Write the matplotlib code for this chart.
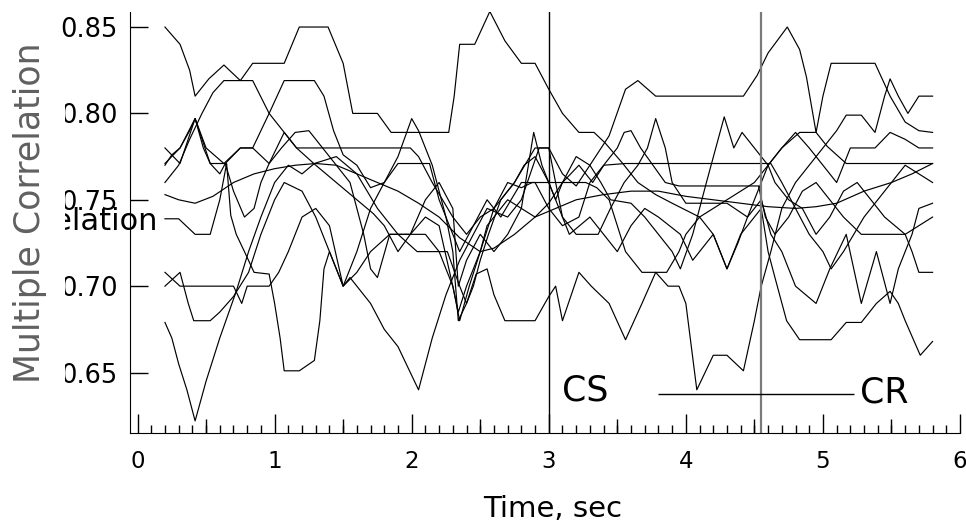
import numpy as np
import matplotlib
matplotlib.use("Agg", force=True)
import matplotlib.pyplot as plt
from matplotlib.patches import Rectangle
from matplotlib.ticker import MultipleLocator, FormatStrFormatter

# ---- data: traced multiple-correlation curves (time [s], value) ----
s1_t = [0.2, 0.31, 0.38, 0.42, 0.52, 0.63, 0.75, 0.84, 1.07, 1.18, 1.39, 1.50, 1.57, 1.75, 1.85, 2.27, 2.31, 2.35, 2.46, 2.57, 2.68, 2.80, 2.90, 3.0, 3.1, 3.22, 3.33, 3.41, 3.54, 3.65, 3.78, 3.9, 4.1, 4.3, 4.5, 4.6, 4.7, 4.83, 4.95, 5.0, 5.06, 5.38, 5.49, 5.6, 5.7, 5.8]
s1_v = [0.85, 0.84, 0.825, 0.81, 0.82, 0.828, 0.819, 0.829, 0.829, 0.85, 0.85, 0.829, 0.80, 0.80, 0.789, 0.789, 0.81, 0.84, 0.84, 0.859, 0.842, 0.829, 0.829, 0.814, 0.80, 0.789, 0.789, 0.783, 0.771, 0.76, 0.753, 0.748, 0.74, 0.75, 0.76, 0.77, 0.78, 0.789, 0.789, 0.81, 0.829, 0.829, 0.81, 0.795, 0.79, 0.789]

s2_t = [0.2, 0.31, 0.42, 0.5, 0.63, 0.75, 0.84, 0.96, 1.07, 1.16, 1.99, 2.05, 2.15, 2.3, 2.4, 2.5, 2.6, 2.75, 2.9, 3.0, 3.1, 3.2, 3.3, 3.44, 3.56, 3.65, 3.78, 4.42, 4.52, 4.6, 4.74, 4.83, 4.88, 4.95, 5.03, 5.17, 5.61, 5.8]
s2_v = [0.78, 0.771, 0.797, 0.78, 0.771, 0.78, 0.78, 0.771, 0.789, 0.78, 0.78, 0.775, 0.76, 0.74, 0.73, 0.74, 0.745, 0.76, 0.78, 0.78, 0.765, 0.758, 0.77, 0.787, 0.814, 0.819, 0.81, 0.81, 0.822, 0.835, 0.85, 0.837, 0.821, 0.789, 0.781, 0.771, 0.771, 0.771]

s3_t = [0.2, 0.3, 0.38, 0.47, 0.55, 0.63, 0.84, 0.96, 1.07, 1.16, 1.3, 1.45, 1.6, 1.72, 1.8, 1.9, 1.99, 2.1, 2.2, 2.3, 2.34, 2.4, 2.5, 2.6, 2.7, 2.8, 2.89, 2.95, 3.0, 3.1, 3.2, 3.36, 3.45, 3.55, 3.65, 3.72, 3.78, 3.85, 3.9, 4.0, 4.3, 4.45, 4.55, 4.62, 4.7, 4.8, 4.95, 5.05, 5.17, 5.28, 5.39, 5.49, 5.55, 5.65, 5.7, 5.8]
s3_v = [0.76, 0.77, 0.785, 0.80, 0.812, 0.819, 0.819, 0.80, 0.789, 0.78, 0.77, 0.76, 0.75, 0.742, 0.735, 0.72, 0.73, 0.75, 0.76, 0.745, 0.70, 0.715, 0.73, 0.72, 0.73, 0.745, 0.789, 0.77, 0.76, 0.74, 0.73, 0.73, 0.745, 0.76, 0.77, 0.78, 0.797, 0.78, 0.76, 0.748, 0.748, 0.74, 0.75, 0.73, 0.72, 0.70, 0.69, 0.71, 0.73, 0.69, 0.72, 0.69, 0.71, 0.73, 0.745, 0.748]

s4_t = [0.2, 0.31, 0.42, 0.53, 0.64, 0.75, 0.84, 0.96, 1.07, 1.29, 1.36, 1.43, 1.5, 1.6, 1.7, 1.8, 1.9, 2.13, 2.2, 2.3, 2.35, 2.45, 2.55, 2.65, 2.8, 2.9, 3.0, 3.1, 3.22, 3.3, 3.4, 3.56, 4.62, 4.7, 4.8, 4.9, 5.0, 5.06, 5.15, 5.3, 5.4, 5.5, 5.6, 5.7, 5.8]
s4_v = [0.771, 0.78, 0.797, 0.771, 0.771, 0.78, 0.78, 0.80, 0.819, 0.819, 0.81, 0.79, 0.776, 0.77, 0.757, 0.76, 0.771, 0.771, 0.75, 0.73, 0.72, 0.735, 0.75, 0.74, 0.76, 0.76, 0.745, 0.735, 0.74, 0.76, 0.77, 0.771, 0.771, 0.76, 0.745, 0.73, 0.72, 0.71, 0.72, 0.74, 0.75, 0.76, 0.77, 0.765, 0.76]

s5_t = [0.2, 0.25, 0.3, 0.36, 0.42, 0.5, 0.6, 0.72, 0.81, 0.9, 1.0, 1.1, 1.2, 1.29, 1.45, 1.6, 1.75, 1.9, 2.04, 2.26, 2.35, 2.4, 2.47, 2.55, 2.6, 2.68, 2.9, 3.0, 3.05, 3.1, 3.22, 3.31, 3.44, 3.56, 3.68, 3.78, 3.87, 3.95, 4.0, 4.08, 4.2, 4.3, 4.42, 4.5, 4.55, 4.62, 4.7, 4.8, 4.9, 5.0, 5.1, 5.17, 5.28, 5.38, 5.45, 5.49, 5.55, 5.62, 5.7, 5.8]
s5_v = [0.679, 0.67, 0.655, 0.64, 0.622, 0.645, 0.67, 0.697, 0.72, 0.74, 0.76, 0.77, 0.765, 0.771, 0.775, 0.765, 0.745, 0.73, 0.72, 0.72, 0.70, 0.69, 0.707, 0.71, 0.695, 0.68, 0.68, 0.694, 0.70, 0.68, 0.708, 0.70, 0.69, 0.669, 0.69, 0.708, 0.70, 0.70, 0.69, 0.64, 0.66, 0.66, 0.651, 0.68, 0.70, 0.72, 0.745, 0.76, 0.77, 0.78, 0.79, 0.799, 0.799, 0.789, 0.81, 0.82, 0.81, 0.80, 0.81, 0.81]

s6_t = [0.2, 0.3, 0.42, 0.53, 0.6, 0.65, 0.68, 0.72, 0.78, 0.85, 0.96, 1.0, 1.04, 1.07, 1.18, 1.29, 1.33, 1.36, 1.4, 1.45, 1.5, 1.55, 1.6, 1.7, 1.8, 1.9, 1.99, 2.05, 2.1, 2.15, 2.25, 2.35, 2.45, 2.55, 2.7, 2.8, 2.93, 3.0, 3.05, 3.1, 3.15, 3.3, 3.4, 3.5, 3.6, 3.7, 3.8, 3.96, 4.05, 4.2, 4.3, 4.4, 4.5, 4.55, 4.6, 4.65, 4.735, 4.83, 5.06, 5.17, 5.28, 5.39, 5.49, 5.55, 5.6, 5.71, 5.8]
s6_v = [0.739, 0.739, 0.73, 0.73, 0.75, 0.771, 0.741, 0.73, 0.72, 0.708, 0.707, 0.69, 0.67, 0.651, 0.651, 0.657, 0.68, 0.71, 0.72, 0.71, 0.70, 0.705, 0.70, 0.69, 0.675, 0.665, 0.65, 0.64, 0.655, 0.67, 0.695, 0.715, 0.73, 0.745, 0.74, 0.75, 0.78, 0.78, 0.76, 0.74, 0.73, 0.74, 0.73, 0.72, 0.735, 0.745, 0.74, 0.73, 0.715, 0.73, 0.71, 0.73, 0.74, 0.745, 0.72, 0.705, 0.68, 0.669, 0.669, 0.679, 0.679, 0.69, 0.697, 0.69, 0.68, 0.66, 0.668]

s7_t = [0.2, 0.31, 0.37, 0.41, 0.53, 0.6, 0.7, 0.81, 0.9, 1.0, 1.07, 1.2, 1.3, 1.4, 1.5, 1.6, 1.7, 1.8, 1.9, 2.0, 2.05, 2.15, 2.25, 2.3, 2.34, 2.4, 2.45, 2.5, 2.56, 2.65, 2.75, 2.82, 2.9, 3.0, 3.05, 3.1, 3.2, 3.3, 3.38, 3.45, 3.6, 3.7, 3.8, 3.9, 3.96, 4.05, 4.15, 4.28, 4.35, 4.41, 4.5, 4.6, 4.7, 4.8, 4.9, 5.0, 5.1, 5.2, 5.38, 5.49, 5.6, 5.7, 5.8]
s7_v = [0.70, 0.708, 0.69, 0.68, 0.68, 0.685, 0.694, 0.708, 0.73, 0.75, 0.76, 0.755, 0.74, 0.72, 0.70, 0.72, 0.745, 0.76, 0.775, 0.797, 0.79, 0.77, 0.74, 0.72, 0.68, 0.69, 0.70, 0.715, 0.73, 0.75, 0.76, 0.77, 0.775, 0.76, 0.75, 0.76, 0.775, 0.77, 0.76, 0.75, 0.748, 0.74, 0.73, 0.72, 0.71, 0.73, 0.76, 0.798, 0.78, 0.789, 0.78, 0.77, 0.78, 0.789, 0.78, 0.77, 0.76, 0.78, 0.78, 0.789, 0.785, 0.78, 0.78]

s8_t = [0.2, 0.31, 0.7, 0.76, 0.8, 0.96, 1.03, 1.1, 1.2, 1.3, 1.4, 1.5, 1.6, 1.7, 1.84, 1.99, 2.1, 2.2, 2.3, 2.34, 2.4, 2.5, 2.6, 2.7, 2.8, 2.88, 3.27, 3.35, 3.44, 3.5, 3.56, 3.68, 3.86, 3.95, 4.0, 4.1, 4.2, 4.3, 4.38, 4.45, 4.55, 4.6, 4.65, 4.75, 4.85, 4.95, 5.05, 5.15, 5.25, 5.35, 5.45, 5.6, 5.7, 5.8]
s8_v = [0.708, 0.70, 0.70, 0.69, 0.70, 0.70, 0.708, 0.72, 0.74, 0.745, 0.735, 0.70, 0.708, 0.72, 0.73, 0.73, 0.74, 0.735, 0.70, 0.685, 0.70, 0.72, 0.745, 0.76, 0.757, 0.76, 0.76, 0.757, 0.75, 0.735, 0.72, 0.708, 0.708, 0.72, 0.73, 0.74, 0.73, 0.71, 0.725, 0.74, 0.76, 0.77, 0.76, 0.75, 0.745, 0.73, 0.74, 0.755, 0.76, 0.75, 0.74, 0.73, 0.735, 0.74]

s9_t = [0.2, 0.3, 0.42, 0.55, 0.7, 0.85, 1.0, 1.15, 1.3, 1.45, 1.6, 1.75, 1.9, 2.05, 2.2, 2.35, 2.5, 2.6, 2.75, 2.9, 3.05, 3.2, 3.4, 3.6, 3.8, 4.0, 4.2, 4.4, 4.6, 4.8, 4.95, 5.1, 5.3, 5.5, 5.65, 5.8]
s9_v = [0.753, 0.75, 0.748, 0.752, 0.76, 0.765, 0.768, 0.77, 0.771, 0.77, 0.765, 0.76, 0.755, 0.748, 0.74, 0.728, 0.72, 0.722, 0.73, 0.74, 0.745, 0.75, 0.753, 0.755, 0.755, 0.752, 0.75, 0.748, 0.746, 0.745, 0.746, 0.748, 0.755, 0.76, 0.765, 0.771]

s10_t = [0.2, 0.25, 0.31, 0.38, 0.42, 0.48, 0.53, 0.6, 0.64, 0.7, 0.78, 0.85, 0.9, 0.96, 1.05, 1.15, 1.25, 1.35, 1.45, 1.55, 1.65, 1.7, 1.75, 1.84, 2.1, 2.2, 2.3, 2.35, 2.42, 2.5, 2.55, 2.6, 2.7, 2.8, 2.9, 3.0, 3.1, 3.22, 3.32, 3.41, 3.5, 3.55, 3.6, 3.67, 3.76, 3.85, 3.95, 4.53, 4.58, 4.65, 4.75, 4.85, 4.95, 5.05, 5.15, 5.28, 5.6, 5.65, 5.7, 5.8]
s10_v = [0.77, 0.776, 0.78, 0.79, 0.797, 0.78, 0.771, 0.765, 0.771, 0.755, 0.74, 0.745, 0.76, 0.771, 0.78, 0.789, 0.79, 0.78, 0.77, 0.76, 0.73, 0.71, 0.705, 0.73, 0.73, 0.72, 0.70, 0.68, 0.70, 0.72, 0.735, 0.74, 0.75, 0.745, 0.74, 0.748, 0.76, 0.77, 0.76, 0.771, 0.78, 0.789, 0.79, 0.78, 0.77, 0.76, 0.758, 0.758, 0.74, 0.73, 0.74, 0.755, 0.76, 0.75, 0.74, 0.73, 0.73, 0.72, 0.708, 0.708]

series = [(s1_t, s1_v), (s2_t, s2_v), (s3_t, s3_v), (s4_t, s4_v), (s5_t, s5_v),
          (s6_t, s6_v), (s7_t, s7_v), (s8_t, s8_v), (s9_t, s9_v), (s10_t, s10_v)]

cs_time = 3.0
cr_time = 4.55
cr_span = [3.8, 5.23]
cr_level = 0.6377

# ---- figure ----
fig = plt.figure(figsize=(9.66, 5.22), dpi=100)
ax = fig.add_axes([130 / 966, 1 - 433 / 522, 830 / 966, 421 / 522])

for t, v in series:
    ax.plot(t, v, color="black", linewidth=0.85)

ax.axvline(cs_time, color="black", linewidth=1.0)
ax.axvline(cr_time, color="#7a7a7a", linewidth=1.6)
ax.hlines(cr_level, cr_span[0], cr_span[1], color="black", linewidth=1.0)
ax.text(3.1, 0.6395, "CS", fontsize=25, ha="left", va="center")
ax.text(5.27, 0.6385, "CR", fontsize=25, ha="left", va="center")

ax.set_xlim(-0.055, 6.0)
ax.set_ylim(0.615, 0.8587)
ax.spines["top"].set_visible(False)
ax.spines["right"].set_visible(False)

ax.set_xticks(np.arange(0, 7, 1))
ax.xaxis.set_minor_locator(MultipleLocator(0.1))
ax.set_yticks([0.65, 0.70, 0.75, 0.80, 0.85])
ax.yaxis.set_major_formatter(FormatStrFormatter("%.2f"))
ax.tick_params(axis="x", which="major", direction="in", length=14, width=1, labelsize=16.5, pad=12)
ax.tick_params(axis="x", which="minor", direction="in", length=5.5, width=1)
ax.tick_params(axis="y", which="major", direction="in", length=13, width=1, labelsize=18.5, pad=9)

half = ax.secondary_xaxis("bottom")
half.set_xticks(np.arange(0.5, 6, 1))
half.tick_params(direction="in", length=10, width=1, labelbottom=False)
half.spines["bottom"].set_visible(False)

# horizontal copy of the label, mostly hidden behind the label box
fig.text(157 / 966, 1 - 230 / 522, "Multiple Correlation", fontsize=22,
         ha="right", va="baseline", color="black", zorder=1)
fig.patches.append(Rectangle((0, 1 - 400 / 522), 65 / 966, 358 / 522,
                             transform=fig.transFigure, facecolor="white",
                             edgecolor="none", zorder=2))
fig.text(30 / 966, 1 - 213 / 522, "Multiple Correlation", fontsize=25,
         rotation=90, ha="center", va="center", color="#606060", zorder=3)

fig.text(553 / 966, 1 - 517 / 522, "Time, sec", fontsize=21, ha="center", va="baseline")

fig.savefig("out.png", dpi=100)
